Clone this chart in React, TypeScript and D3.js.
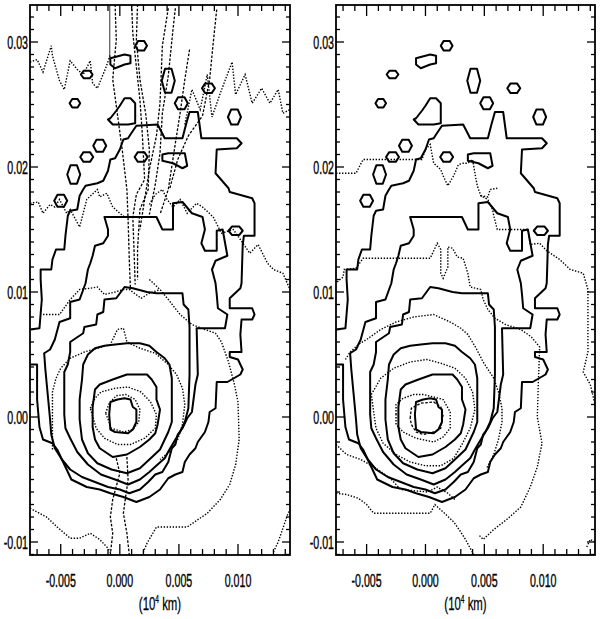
import { useEffect, useRef } from "react";
import * as d3 from "d3";

// All positions are in units of 1e-3 (10^4 km); tick labels show value / 1000.
type Pt = [number, number];

const xTicks = [-5, 0, 5, 10];
const xTickLabels = ["-0.005", "0.000", "0.005", "0.010"];
const yTicks = [-10, 0, 10, 20, 30];
const yTickLabels = ["-0.01", "0.00", "0.01", "0.02", "0.03"];
const xMinor = d3.range(-7, 15, 1);
const yMinor = d3.range(-11, 33, 1);

// ---- solid contours (same in both panels) ----
const contour1: Pt[] = [
  [-7.6, 7.0], [-6.8, 7.1], [-6.6, 9.4], [-6.7, 11.0], [-6.7, 11.8], [-5.8, 11.8], [-5.7, 12.6], [-5.4, 13.4],
  [-4.7, 13.4], [-4.6, 14.5], [-4.4, 16.1], [-4.2, 16.5], [-3.6, 16.6], [-3.4, 17.7], [-3.1, 18.2], [-2.9, 18.5],
  [-1.9, 18.7], [-1.4, 18.9], [-1.0, 19.7], [-0.8, 20.6], [-0.4, 20.7], [0, 21.4], [0.3, 22.2], [0.7, 22.3],
  [0.9, 22.6], [1.4, 23.3], [3.2, 23.4], [3.8, 22.3], [5.3, 22.3], [5.6, 23.4], [5.9, 24.4], [6.6, 24.4],
  [6.9, 22.3], [9.9, 22.3], [10.3, 21.9], [9.9, 21.5], [8.2, 21.4], [8.1, 19.5], [9.2, 18.3], [9.3, 18.0],
  [11.2, 17.5], [11.4, 17.1], [11.4, 14.5], [10.5, 14.5], [10.4, 13.8], [10.3, 10.7], [10.2, 10.3], [9.3, 9.5],
  [9.3, 8.7], [11.2, 8.7], [11.4, 8.2], [11.2, 7.8], [10.3, 7.8], [10.2, 6.6], [10.3, 5.2], [9.3, 5.2],
  [9.3, 4.8], [10.0, 4.6], [10.4, 3.8], [10.2, 3.4], [9.1, 2.8], [8.2, 2.8], [8.1, 0.7], [7.6, 0.4],
  [7.5, -0.4], [7.2, -1.2], [6.6, -2.0], [6.4, -2.5], [5.9, -3.0], [5.5, -3.6], [5.3, -4.4], [4.7, -4.6],
  [4.1, -4.9], [3.4, -5.8], [2.5, -6.4], [1.4, -6.8], [0.3, -6.4], [-0.8, -6.1], [-1.7, -5.8], [-2.8, -5.6],
  [-4.1, -5.0], [-4.5, -4.2], [-5.3, -2.6], [-5.7, -2.1], [-6.5, -1.8], [-6.8, -0.8], [-7.0, 1.4], [-7.0, 2.7],
  [-7.0, 4.2], [-7.6, 4.2],
];
const contour2: Pt[] = [
  [-1.3, 16.0], [3.1, 16.0], [3.6, 15.0], [4.5, 15.0], [4.5, 17.1], [5.3, 17.2], [6.1, 16.3], [7.0, 16.0],
  [7.2, 15.0], [6.9, 13.9], [7.2, 13.3], [8.2, 13.3], [8.2, 14.9], [8.7, 15.0], [9.1, 12.9], [8.1, 12.5],
  [7.8, 11.8], [8.1, 10.7], [8.2, 9.8], [8.3, 8.7], [9.1, 8.2], [8.9, 7.1], [6.5, 7.1], [6.6, 3.4],
  [6.4, 2.6], [6.1, 0.4], [5.7, -0.1], [5.3, -0.9], [4.9, -1.4], [4.7, -2.2], [4.4, -2.5], [4.1, -3.6],
  [3.6, -4.4], [3.0, -4.6], [2.4, -5.2], [1.7, -5.8], [0.8, -6.1], [0, -5.8], [-1.0, -5.6], [-2.1, -5.2],
  [-3.2, -4.8], [-4.2, -4.2], [-4.9, -3.4], [-5.5, -2.5], [-5.8, -1.4], [-5.9, -0.2], [-6.1, 1.8], [-6.3, 3.8],
  [-6.4, 5.1], [-5.9, 5.4], [-5.5, 6.2], [-5.1, 7.6], [-4.2, 7.9], [-4.2, 9.2], [-3.4, 9.4], [-2.9, 10.7],
  [-2.7, 11.8], [-2.5, 12.3], [-2.3, 12.9], [-2.1, 13.7], [-1.4, 13.9], [-1.0, 14.5], [-1.0, 15.0],
];
const contour3: Pt[] = [
  [-1.4, 8.4], [-1.3, 9.4], [-0.3, 9.5], [0.4, 10.4], [1.1, 10.3], [2.3, 10.0], [3.1, 9.9], [5.3, 9.9],
  [5.4, 9.0], [5.8, 8.6], [5.9, 7.2], [5.9, 3.4], [5.8, 0.7], [5.5, -0.4], [5.1, -1.2], [4.7, -1.8],
  [4.2, -2.6], [3.8, -3.3], [3.2, -3.8], [2.5, -4.4], [1.7, -5.0], [0.7, -5.4], [-0.4, -5.0], [-1.6, -4.6],
  [-2.7, -3.8], [-3.6, -2.8], [-4.2, -1.7], [-4.6, -0.9], [-4.7, 0.2], [-4.7, 3.6], [-4.4, 4.2], [-4.2, 5.2],
  [-4.2, 6.0], [-3.1, 6.7], [-3.0, 7.2], [-2.0, 7.4], [-1.9, 8.2],
];
const contour4: Pt[] = [
  [-3.2, 3.0], [-3.1, 4.2], [-2.7, 5.0], [-2.1, 5.5], [-1.3, 5.7], [-0.4, 5.8], [0.6, 5.9], [1.7, 5.9],
  [2.5, 5.7], [3.1, 5.2], [3.8, 4.7], [4.2, 4.2], [4.4, 3.1], [4.4, -0.4], [4.1, -1.2], [3.8, -1.8],
  [3.4, -2.6], [2.5, -3.4], [1.7, -4.1], [0.6, -4.5], [-0.7, -4.2], [-1.9, -3.7], [-2.7, -2.9], [-3.2, -1.8],
  [-3.4, -0.2], [-3.4, 1.4],
];
const contour5: Pt[] = [
  [-2.3, 0.8], [-2.1, 2.2], [-1.7, 2.6], [-0.6, 3.0], [0.6, 3.4], [2.3, 3.4], [2.7, 3.0], [3.1, 2.4],
  [3.1, 1.4], [3.4, 0.6], [3.2, -0.6], [3.0, -1.3], [2.5, -1.8], [1.7, -2.4], [0.6, -3.0], [-0.6, -3.2],
  [-1.7, -2.5], [-2.1, -1.8], [-2.3, -0.8],
];
const contour6: Pt[] = [
  [-0.8, 1.2], [-0.2, 1.4], [0.4, 1.5], [0.9, 1.4], [1.1, 0.8], [1.4, 0.6], [1.4, -0.4], [1.1, -1.0],
  [0.7, -1.3], [-0.4, -1.2], [-0.8, -1.0], [-0.9, 0.2],
];
const blobBean: Pt[] = [[-0.8, 28.7], [0.4, 29.0], [0.9, 28.9], [0.9, 28.3], [0.4, 28.2], [-0.4, 27.9], [-0.8, 28.2]];
const blobBoot: Pt[] = [
  [-0.8, 23.9], [-0.3, 24.5], [0, 24.9], [0.4, 25.5], [0.9, 25.5], [1.3, 25.1], [1.3, 23.5], [0.7, 23.4],
  [-0.6, 23.4], [-1.0, 23.8],
];
const blobRect: Pt[] = [[3.6, 21.0], [4.1, 21.1], [5.5, 21.1], [5.7, 20.1], [5.3, 19.9], [4.5, 20.3], [3.6, 20.5], [3.6, 20.9]];
// small closed islands: centre x, centre y, half width, half height
const islands: [number, number, number, number][] = [
  [1.8, 29.7, 0.5, 0.45], [-2.8, 27.4, 0.5, 0.35], [-3.8, 25.1, 0.45, 0.4], [-1.7, 21.7, 0.55, 0.55],
  [-2.8, 20.8, 0.55, 0.45], [1.8, 20.8, 0.55, 0.45], [-3.9, 19.4, 0.55, 0.85], [-5.0, 17.3, 0.55, 0.55],
  [4.1, 26.9, 0.55, 1.1], [5.2, 25.1, 0.55, 0.55], [7.5, 26.3, 0.55, 0.45], [9.7, 24.0, 0.55, 0.7],
  [9.8, 14.9, 0.6, 0.4],
];

// ---- left panel broken lines ----
const leftDotted: Pt[][] = [
  [[-7.6, 28.4], [-7.0, 28.6], [-6.5, 27.6], [-5.8, 29.7], [-5.7, 28.9], [-5.1, 26.9], [-4.7, 26.2], [-4.2, 28.5],
   [-3.6, 27.8], [-3.1, 27.4], [-2.5, 28.5], [-2.3, 26.7], [-1.9, 26.3], [-1.2, 27.9], [-0.8, 29.0]],
  [[5.5, 23.4], [6.1, 26.2], [6.8, 24.6], [7.4, 27.4], [7.8, 24.0], [8.5, 25.9], [9.5, 28.4], [9.8, 25.8],
   [10.6, 27.4], [11.2, 25.1], [12.0, 26.3], [12.7, 25.1], [13.4, 26.2], [13.8, 24.3], [14.4, 24.6]],
  [[-7.6, 17.1], [-6.9, 17.2], [-6.5, 16.3], [-5.9, 17.0], [-5.5, 16.8], [-5.1, 17.4], [-4.5, 16.3], [-4.2, 16.6],
   [-3.4, 15.2], [-2.8, 17.4], [-1.9, 18.2], [-1.7, 17.6], [-1.1, 17.9], [-0.6, 16.8], [0, 16.3], [0.4, 16.0]],
  [[2.5, 17.0], [3.0, 17.8], [3.6, 18.2], [4.0, 17.4], [4.5, 16.8], [5.1, 17.4], [5.7, 16.3], [6.5, 17.1],
   [7.0, 16.8], [7.9, 16.0], [8.6, 14.7], [9.6, 15.0], [10.2, 14.2], [11.0, 13.1], [11.7, 13.8], [12.5, 12.3],
   [13.0, 11.8], [13.8, 11.5], [14.4, 10.2]],
  [[-6.5, 8.2], [-5.1, 8.2], [-4.2, 9.4], [-3.4, 10.2], [-2.5, 10.3], [-1.9, 10.4], [-1.3, 9.8], [-0.4, 10.0],
   [0.3, 10.2], [0.8, 10.2], [1.8, 9.5], [2.5, 9.9], [3.4, 10.2]],
  [[-5.7, -2.6], [-5.7, 0.2], [-5.7, 2.0], [-5.4, 3.1], [-5.0, 3.9], [-4.2, 4.7], [-3.0, 5.2], [-1.9, 5.5],
   [-0.8, 5.8], [-0.2, 7.0], [0.3, 7.1], [0.6, 6.0], [1.7, 5.5], [3.0, 5.1], [4.1, 4.2], [4.8, 3.4],
   [5.3, 2.3], [5.5, 1.0], [5.3, -0.6], [4.9, -1.8], [4.2, -2.8], [3.4, -3.4]],
  [[-2.5, 0.7], [-2.1, 1.5], [-1.6, 2.0], [-0.4, 2.3], [0.7, 2.4], [1.8, 2.0], [2.6, 1.2], [3.1, 0.2],
   [3.0, -0.9], [2.1, -1.7], [0.9, -2.2], [-0.2, -2.2], [-1.3, -1.7], [-2.0, -0.9], [-2.5, 0.7]],
  [[-1.2, 0.3], [-0.9, 1.1], [-0.3, 1.7], [0.5, 1.8], [1.3, 1.4], [1.7, 0.6], [1.6, -0.4], [1.1, -1.0],
   [0.3, -1.2], [-0.7, -0.9], [-1.2, 0.3]],
  [[-7.6, -7.3], [-7.0, -7.6], [-6.2, -8.0], [-5.3, -8.8], [-4.2, -9.7], [-3.4, -9.7], [-2.5, -9.3], [-1.7, -9.8],
   [-1.0, -10.5], [-0.7, -11.0]],
  [[2.5, 11.0], [3.4, 10.2], [4.1, 9.4], [5.1, 8.2], [6.1, 7.4], [7.2, 7.0], [8.1, 6.7], [8.6, 6.0],
   [9.2, 4.4], [9.7, 2.6], [10.0, 1.2], [10.1, -1.8], [9.8, -3.8], [9.3, -5.4], [8.5, -6.6], [7.4, -7.7],
   [5.7, -8.8], [3.1, -8.8], [2.3, -10.1], [1.9, -11.0]],
  [[13.0, -10.8], [13.4, -10.0], [13.8, -8.9], [14.2, -7.8], [14.4, -7.4]],
];
const leftDashed: Pt[][] = [
  [[-0.4, 33.0], [-0.3, 30.2], [-0.6, 27.0], [-0.2, 24.2], [0.2, 21.4], [0.6, 18.2], [0.7, 15.8], [0.8, 12.6], [0.9, 10.2]],
  [[1.0, 33.0], [1.1, 30.7], [1.4, 28.0], [1.7, 25.4], [1.9, 22.7], [2.1, 19.0], [1.4, 17.8], [1.1, 16.0], [1.2, 13.4], [1.3, 10.6]],
  [[1.5, 33.0], [1.4, 30.2], [1.7, 27.0], [2.2, 24.2], [2.5, 21.4], [2.4, 18.2], [1.7, 16.6], [1.5, 13.4], [1.5, 11.0]],
  [[4.1, 32.7], [3.6, 29.7], [3.4, 25.1], [3.1, 22.5], [2.5, 19.8], [2.1, 17.4], [1.7, 15.0]],
  [[4.7, 32.7], [4.5, 31.0], [4.1, 27.3], [3.6, 24.3], [3.4, 21.1], [3.0, 18.6], [2.5, 16.2]],
  [[8.2, 32.6], [7.9, 29.9], [7.6, 27.0], [7.0, 24.1], [5.8, 22.5], [4.9, 20.6], [4.2, 18.2]],
  [[5.9, 29.4], [5.5, 27.0], [5.1, 24.3], [4.7, 21.9], [4.1, 18.2], [3.4, 16.2]],
  [[-0.3, -3.3], [0, -4.5], [-0.6, -6.6], [-0.8, -8.0], [-0.6, -9.3], [-0.8, -11.0]],
  [[0.6, -3.2], [0.7, -5.0], [0.3, -7.7], [0.6, -9.3], [0.8, -11.0]],
];
const leftThin: Pt[][] = [[[-0.85, 33.0], [-0.85, 28.6]]];

// ---- right panel broken lines ----
const rightDotted: Pt[][] = [
  [[-7.6, 19.5], [-5.9, 19.5], [-5.3, 20.6], [-0.3, 20.6], [0, 21.4], [0.4, 21.8], [0.7, 20.3], [1.3, 19.8],
   [1.5, 19.3], [1.9, 18.5], [2.4, 19.3], [2.8, 20.2], [3.2, 20.3], [3.6, 20.3], [4.0, 20.6], [4.2, 19.5],
   [4.4, 18.5], [4.7, 17.7], [5.3, 17.4], [5.7, 16.6], [5.8, 16.1], [6.1, 15.0], [8.7, 15.0], [8.9, 13.8],
   [9.7, 13.9], [10.3, 13.3], [11.4, 12.6], [12.3, 11.8], [13.4, 11.5], [13.8, 10.2], [13.8, 5.2], [13.4, 3.6],
   [14.0, 2.6], [14.4, 1.0]],
  [[4.7, 17.7], [5.3, 17.6], [5.5, 18.2], [6.1, 18.3]],
  [[-7.5, 10.8], [-7.0, 11.2], [-6.9, 11.8], [-5.9, 11.9], [-5.3, 12.7], [0.4, 12.7], [1.0, 13.9], [1.3, 13.4],
   [1.3, 11.5], [1.5, 11.1], [1.9, 12.0], [1.9, 13.6], [2.3, 13.5], [2.7, 12.8], [3.2, 12.7], [3.6, 11.5],
   [3.8, 10.4], [4.7, 10.2], [4.9, 9.4], [5.3, 8.6], [5.9, 7.9], [6.8, 7.4], [8.1, 7.0], [9.0, 6.4],
   [9.7, 5.6], [9.6, 3.1], [9.5, 0], [9.9, -2.1], [9.5, -4.0], [8.9, -5.6], [8.1, -7.2], [6.9, -8.2],
   [5.8, -9.0], [4.9, -9.8], [4.5, -9.4]],
  [[-6.8, 4.6], [-6.4, 5.2], [-5.7, 5.8], [-5.0, 6.2], [-3.8, 7.0], [-2.5, 7.6], [-1.0, 8.0], [0.7, 8.2],
   [2.1, 7.6], [3.0, 7.1], [3.6, 6.6], [4.3, 5.5], [4.9, 4.4], [5.8, 3.1], [6.2, 2.0], [6.5, 0.7],
   [6.5, -0.4], [6.2, -1.8], [5.8, -3.0], [5.2, -4.1]],
  [[-4.6, 1.8], [-3.8, 3.1], [-2.7, 3.9], [-1.3, 4.4], [0.1, 4.6], [1.3, 4.3], [2.5, 3.9], [3.4, 3.1],
   [4.0, 2.0], [4.2, 0.6], [3.8, -0.9], [3.1, -2.2], [2.4, -3.3], [1.3, -3.9], [0, -3.9], [-1.3, -3.6],
   [-2.5, -3.0], [-3.6, -2.1], [-4.2, -0.9], [-4.4, 0.4], [-4.6, 1.8]],
  [[-2.5, 0.2], [-2.5, 1.0], [-1.9, 1.5], [-1.0, 1.8], [-0.2, 1.8], [0.7, 1.6], [1.5, 1.4], [2.1, 0.4],
   [2.1, -0.9], [1.5, -1.6], [0.7, -2.0], [-0.8, -1.7], [-1.9, -1.2], [-2.5, -0.6], [-2.5, 0.2]],
  [[-7.6, -2.2], [-6.7, -3.0], [-5.5, -3.4], [-4.2, -4.1], [-3.0, -4.9], [-2.1, -5.8], [0.2, -6.0], [1.0, -5.6],
   [1.9, -6.1], [2.5, -6.6]],
  [[-7.6, -6.1], [-6.7, -6.2], [-5.7, -6.5], [-5.0, -7.0], [-4.4, -7.7], [0.4, -7.7], [0.8, -7.0], [1.5, -7.6],
   [2.4, -8.4], [3.0, -9.2], [3.4, -9.8], [3.8, -10.5], [4.1, -11.0]],
  [[13.7, -10.4], [14.0, -9.8], [14.4, -10.0]],
];
const rightDashed: Pt[][] = [
  [[-1.3, -0.1], [-1.2, 0.7], [-0.4, 1.1], [0.7, 1.2], [1.3, 0.8], [1.5, 0.2], [1.3, -0.9], [0.7, -1.2],
   [-0.2, -1.4], [-0.8, -1.2], [-1.2, -0.6], [-1.3, -0.1]],
];

const panels = [
  { left: 30, right: 290, dotted: leftDotted, dashed: leftDashed, thin: leftThin },
  { left: 336, right: 595, dotted: rightDotted, dashed: rightDashed, thin: [] as Pt[][] },
];

const TOP = 5;
const BOTTOM = 555;
const FONT = "'Liberation Sans', Arial, sans-serif";

export default function App() {
  const svgRef = useRef<SVGSVGElement>(null);

  useEffect(() => {
    if (!svgRef.current) return;
    const svg = d3.select(svgRef.current);
    svg.selectAll("*").remove();

    const y = d3.scaleLinear().domain([-11.04, 32.96]).range([BOTTOM, TOP]);

    const islandPts = (d: [number, number, number, number]): Pt[] =>
      d3.range(6).map(k => {
        const a = (k * Math.PI) / 3;
        return [d[0] + d[2] * Math.cos(a), d[1] + d[3] * Math.sin(a)] as Pt;
      });

    panels.forEach((p, pi) => {
      const x = d3.scaleLinear().domain([-7.6, 14.4]).range([p.left, p.right]);
      const line = d3.line<Pt>().x(d => x(d[0])).y(d => y(d[1]));
      const closed = d3.line<Pt>().x(d => x(d[0])).y(d => y(d[1])).curve(d3.curveLinearClosed);

      const clipId = `clip${pi}`;
      svg.append("clipPath").attr("id", clipId)
        .append("rect").attr("x", p.left).attr("y", TOP).attr("width", p.right - p.left).attr("height", BOTTOM - TOP);

      const g = svg.append("g").attr("clip-path", `url(#${clipId})`);

      // broken lines
      p.thin.forEach(l => g.append("path").attr("d", line(l)).attr("fill", "none")
        .attr("stroke", "#333").attr("stroke-width", 1));
      p.dotted.forEach(l => g.append("path").attr("d", line(l)).attr("fill", "none")
        .attr("stroke", "#000").attr("stroke-width", 1.4).attr("stroke-dasharray", "1.4,1.6"));
      p.dashed.forEach(l => g.append("path").attr("d", line(l)).attr("fill", "none")
        .attr("stroke", "#000").attr("stroke-width", 1.3).attr("stroke-dasharray", "2.6,1.6"));

      // solid contours
      const solid = (d: string | null) => g.append("path").attr("d", d).attr("fill", "none")
        .attr("stroke", "#000").attr("stroke-width", 2).attr("stroke-linejoin", "round");
      solid(line(contour1));
      [contour2, contour3, contour4, contour5, contour6, blobBean, blobBoot, blobRect].forEach(c => solid(closed(c)));
      islands.forEach(d => solid(closed(islandPts(d))));

      // frame
      svg.append("rect").attr("x", p.left).attr("y", TOP).attr("width", p.right - p.left).attr("height", BOTTOM - TOP)
        .attr("fill", "none").attr("stroke", "#000").attr("stroke-width", 1.8);

      // ticks
      const tk = svg.append("g").attr("stroke", "#000").attr("stroke-width", 1.3);
      xMinor.forEach(v => {
        const len = xTicks.includes(v) ? 11 : 6;
        tk.append("line").attr("x1", x(v)).attr("x2", x(v)).attr("y1", BOTTOM).attr("y2", BOTTOM - len);
        tk.append("line").attr("x1", x(v)).attr("x2", x(v)).attr("y1", TOP).attr("y2", TOP + len);
      });
      yMinor.forEach(v => {
        const len = yTicks.includes(v) ? 8 : 4;
        tk.append("line").attr("x1", p.left).attr("x2", p.left + len).attr("y1", y(v)).attr("y2", y(v));
        tk.append("line").attr("x1", p.right).attr("x2", p.right - len).attr("y1", y(v)).attr("y2", y(v));
      });

      // labels
      const label = (tx: number, ty: number, anchor: string, s: string) =>
        svg.append("text").attr("transform", `translate(${tx},${ty}) scale(0.56,1)`)
          .attr("text-anchor", anchor).style("font-family", FONT).style("font-size", "19px")
          .attr("fill", "#000").attr("stroke", "#000").attr("stroke-width", 0.4).text(s);
      xTicks.forEach((v, i) => label(x(v), 587, "middle", xTickLabels[i]));
      yTicks.forEach((v, i) => label(p.left - 2, y(v) + 7, "end", yTickLabels[i]));

      const cx = (p.left + p.right) / 2;
      const t = svg.append("text").attr("transform", `translate(${cx},610) scale(0.6,1)`)
        .attr("text-anchor", "middle").style("font-family", FONT).style("font-size", "19px")
        .attr("fill", "#000").attr("stroke", "#000").attr("stroke-width", 0.3);
      t.append("tspan").text("(10");
      t.append("tspan").attr("dy", -7).style("font-size", "11px").text("4");
      t.append("tspan").attr("dy", 7).text(" km)");
    });
  }, []);

  return (
    <svg
      ref={svgRef}
      width={600}
      height={619}
      style={{ position: "absolute", left: 0, top: 0, background: "#fff" }}
    />
  );
}
